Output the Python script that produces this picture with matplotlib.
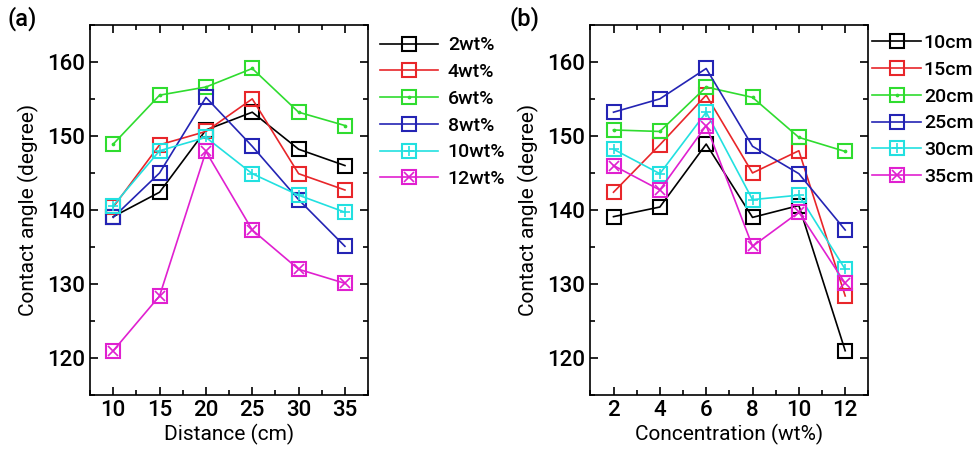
import numpy as np
import matplotlib
matplotlib.use('Agg')
import matplotlib.pyplot as plt
from matplotlib.ticker import MultipleLocator

plt.rcParams['font.family'] = ['Roboto', 'DejaVu Sans']
plt.rcParams['font.weight'] = 'medium'

distance = [10, 15, 20, 25, 30, 35]
concentration = [2, 4, 6, 8, 10, 12]

# contact angle per concentration, across distances 10..35 cm
wt2 = [139.1, 142.4, 150.8, 153.2, 148.2, 146.0]
wt4 = [140.4, 148.8, 150.6, 155.0, 144.9, 142.7]
wt6 = [148.9, 155.5, 156.6, 159.1, 153.2, 151.4]
wt8 = [139.0, 145.0, 155.2, 148.6, 141.4, 135.1]
wt10 = [140.6, 148.0, 149.8, 144.9, 142.0, 139.7]
wt12 = [121.0, 128.4, 147.9, 137.3, 132.0, 130.1]

labels_a = ['2wt%', '4wt%', '6wt%', '8wt%', '10wt%', '12wt%']
labels_b = ['10cm', '15cm', '20cm', '25cm', '30cm', '35cm']
colors = ['black', '#e8262a', '#2fdc2f', '#2424b4', '#22e0e0', '#e020d0']
inner = [None, None, '.', None, '+', 'x']

data = np.array([wt2, wt4, wt6, wt8, wt10, wt12])

fig = plt.figure(figsize=(9.79, 4.59), dpi=100)
ax1 = fig.add_axes([0.092, 0.139, 0.284, 0.807])
ax2 = fig.add_axes([0.603, 0.139, 0.284, 0.807])


def draw(ax, x, rows):
    handles = []
    for i, y in enumerate(rows):
        h, = ax.plot(x, y, color=colors[i], lw=1.2, marker='s', ms=10,
                     mfc='none', mew=1.5)
        if inner[i] is not None:
            ms = 3 if inner[i] == '.' else 7
            h2, = ax.plot(x, y, ls='none', marker=inner[i], ms=ms, color=colors[i], mew=1.2)
            handles.append((h, h2))
        else:
            handles.append(h)
    return handles


ha = draw(ax1, distance, data)
hb = draw(ax2, concentration, data.T)

for ax in (ax1, ax2):
    ax.set_ylim(115, 165)
    ax.yaxis.set_major_locator(MultipleLocator(10))
    ax.yaxis.set_minor_locator(MultipleLocator(5))
    ax.tick_params(which='both', direction='in', top=True, right=True, labelsize=16)
    ax.tick_params(which='major', length=6, width=1.2)
    ax.tick_params(which='minor', length=3.5, width=1.2)
    for s in ax.spines.values():
        s.set_linewidth(1.2)
    ax.set_ylabel('Contact angle (degree)', fontsize=15, labelpad=6)

ax1.legend(ha, labels_a, loc='upper left', bbox_to_anchor=(1.0, 1.0), frameon=False,
           fontsize=14, handlelength=3.0, handletextpad=0.5,
           labelspacing=0.45, borderaxespad=0.2)
ax2.legend(hb, labels_b, loc='upper left', bbox_to_anchor=(1.0, 0.985), frameon=False,
           fontsize=14, handlelength=2.5, handletextpad=0.15, borderpad=0.2,
           labelspacing=0.45, borderaxespad=0.0)

ax1.set_xlim(7.5, 37.5)
ax1.xaxis.set_major_locator(MultipleLocator(5))
ax1.xaxis.set_minor_locator(MultipleLocator(2.5))
ax1.set_xlabel('Distance (cm)', fontsize=15, labelpad=2)

ax2.set_xlim(1, 13)
ax2.xaxis.set_major_locator(MultipleLocator(2))
ax2.xaxis.set_minor_locator(MultipleLocator(1))
ax2.set_xlabel('Concentration (wt%)', fontsize=15, labelpad=2)

fig.text(0.008, 0.945, '(a)', fontsize=17)
fig.text(0.52, 0.945, '(b)', fontsize=17)

fig.savefig('out.png', dpi=100)
